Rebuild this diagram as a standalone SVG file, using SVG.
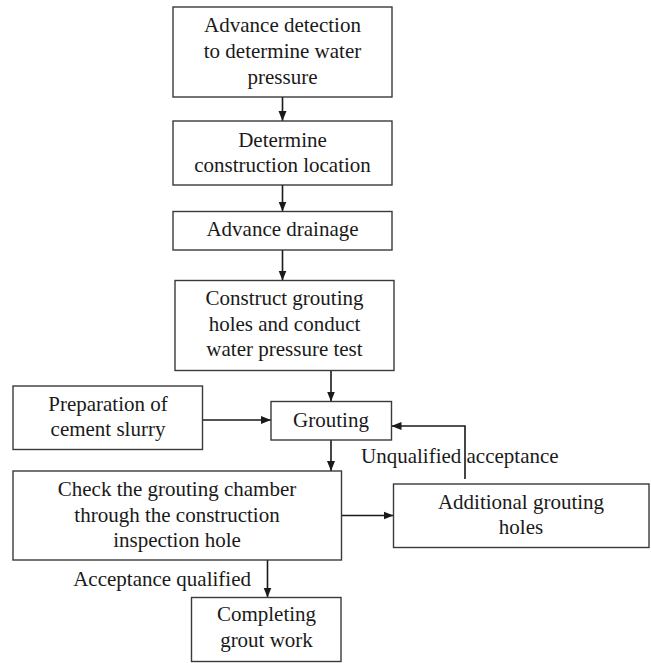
<svg xmlns="http://www.w3.org/2000/svg" width="651" height="663" viewBox="0 0 651 663">
<style>
.box{fill:#fff;stroke:#3a3a3a;stroke-width:1.4}
.t{font-family:"Liberation Serif","Times New Roman",serif;font-size:21px;fill:#1a1a1a;text-anchor:middle}
.l{font-family:"Liberation Serif","Times New Roman",serif;font-size:21px;fill:#1a1a1a}
.c{fill:none;stroke:#1a1a1a;stroke-width:1.6}
</style>
<defs>
<marker id="ah" markerWidth="10" markerHeight="10" viewBox="0 0 10 10" refX="10" refY="5" orient="auto" markerUnits="userSpaceOnUse">
<path d="M0,1 L10,5 L0,9 Z" fill="#1a1a1a"/>
</marker>
</defs>
<rect width="651" height="663" fill="#fff"/>
<g id="connectors">
<line class="c" x1="282.5" y1="97" x2="282.5" y2="121" marker-end="url(#ah)"/>
<line class="c" x1="282.5" y1="185" x2="282.5" y2="211.5" marker-end="url(#ah)"/>
<line class="c" x1="282.5" y1="250" x2="282.5" y2="280.5" marker-end="url(#ah)"/>
<line class="c" x1="331" y1="370.5" x2="331" y2="401.5" marker-end="url(#ah)"/>
<line class="c" x1="202.5" y1="420" x2="271" y2="420" marker-end="url(#ah)"/>
<line class="c" x1="331" y1="440" x2="331" y2="471" marker-end="url(#ah)"/>
<line class="c" x1="341.5" y1="515.5" x2="393.5" y2="515.5" marker-end="url(#ah)"/>
<polyline class="c" points="465,479 465,426 391.5,426" marker-end="url(#ah)"/>
<line class="c" x1="267.5" y1="560" x2="267.5" y2="597.5" marker-end="url(#ah)"/>
<text class="l" x="361" y="463">Unqualified acceptance</text>
<text class="l" x="251" y="586" text-anchor="end">Acceptance qualified</text>
</g>
<g id="n1">
<rect class="box" x="173" y="7" width="219" height="90"/>
<text class="t" x="282.5" y="32">Advance detection</text>
<text class="t" x="282.5" y="58">to determine water</text>
<text class="t" x="282.5" y="83.5">pressure</text>
</g>
<g id="n2">
<rect class="box" x="173" y="121" width="219" height="64"/>
<text class="t" x="282.5" y="146.5">Determine</text>
<text class="t" x="282.5" y="172">construction location</text>
</g>
<g id="n3">
<rect class="box" x="173" y="211.5" width="219" height="38.5"/>
<text class="t" x="282.5" y="235.5">Advance drainage</text>
</g>
<g id="n4">
<rect class="box" x="175" y="280.5" width="219" height="90"/>
<text class="t" x="284.5" y="305">Construct grouting</text>
<text class="t" x="284.5" y="330.5">holes and conduct</text>
<text class="t" x="284.5" y="356">water pressure test</text>
</g>
<g id="n5">
<rect class="box" x="13" y="386" width="189.5" height="63.5"/>
<text class="t" x="108" y="410.5">Preparation of</text>
<text class="t" x="108" y="436">cement slurry</text>
</g>
<g id="n6">
<rect class="box" x="271" y="401.5" width="120.5" height="38.5"/>
<text class="t" x="331" y="427">Grouting</text>
</g>
<g id="n7">
<rect class="box" x="13" y="471" width="328.5" height="89"/>
<text class="t" x="177" y="496">Check the grouting chamber</text>
<text class="t" x="177" y="521.5">through the construction</text>
<text class="t" x="177" y="547">inspection hole</text>
</g>
<g id="n8">
<rect class="box" x="393.5" y="484" width="255.5" height="63.5"/>
<text class="t" x="521" y="508.5">Additional grouting</text>
<text class="t" x="521" y="534">holes</text>
</g>
<g id="n9">
<rect class="box" x="191.5" y="597.5" width="149.5" height="64"/>
<text class="t" x="266.5" y="621">Completing</text>
<text class="t" x="266.5" y="646.5">grout work</text>
</g>
</svg>
